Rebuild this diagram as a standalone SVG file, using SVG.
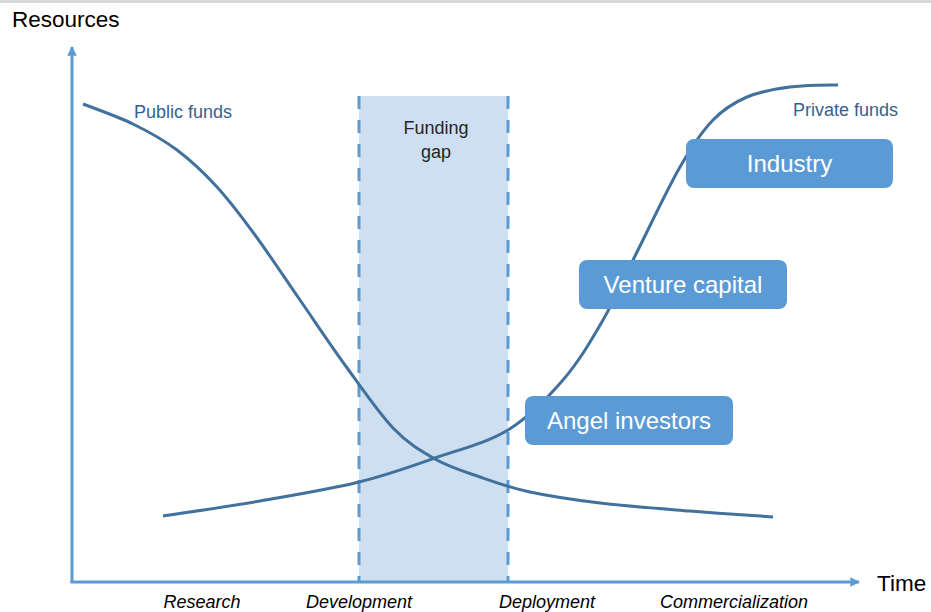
<svg xmlns="http://www.w3.org/2000/svg" width="931" height="612" viewBox="0 0 931 612">
  <style>
    .axis { stroke: #5b9bd5; stroke-width: 3; fill: none; }
    .gapline { stroke: #5b9bd5; stroke-width: 3; stroke-dasharray: 13 11; fill: none; }
    .curve { stroke: #41719c; stroke-width: 3; fill: none; stroke-linecap: butt; }
    .box { fill: #5b9bd5; }
    .boxtext { font-family: "Liberation Sans", Arial, sans-serif; font-size: 24px; fill: #ffffff; text-anchor: middle; }
    .axistitle { font-family: "Liberation Sans", Arial, sans-serif; font-size: 22.5px; fill: #000000; }
    .curvelabel { font-family: "Liberation Sans", Arial, sans-serif; font-size: 18px; fill: #35618f; }
    .stage { font-family: "Liberation Sans", Arial, sans-serif; font-size: 18px; font-style: italic; fill: #000000; text-anchor: middle; }
    .gaptext { font-family: "Liberation Sans", Arial, sans-serif; font-size: 18px; fill: #262626; text-anchor: middle; }
  </style>
  <defs>
    <marker id="arrow" viewBox="0 0 10 10" refX="9" refY="5" markerWidth="3.2" markerHeight="3.2" orient="auto">
      <path d="M0,0 L10,5 L0,10 z" fill="#5b9bd5"/>
    </marker>
  </defs>

  <rect x="0" y="0" width="931" height="612" fill="#ffffff"/>
  <rect x="0" y="0" width="931" height="3" fill="#d9d9d9"/>

  <!-- funding gap band -->
  <g id="funding-gap">
    <rect x="359" y="96" width="149" height="486" fill="#cddff0"/>
    <line class="gapline" x1="359" y1="96" x2="359" y2="582"/>
    <line class="gapline" x1="508" y1="96" x2="508" y2="582"/>
    <text class="gaptext" x="436" y="134">Funding</text>
    <text class="gaptext" x="436" y="158">gap</text>
  </g>

  <!-- axes -->
  <g id="axes">
    <line class="axis" x1="72" y1="583" x2="72" y2="47" marker-end="url(#arrow)"/>
    <line class="axis" x1="70.5" y1="582" x2="859" y2="582" marker-end="url(#arrow)"/>
    <text class="axistitle" x="12" y="27">Resources</text>
    <text class="axistitle" x="877" y="591">Time</text>
  </g>

  <!-- funding curves -->
  <g id="connectors">
    <path id="public-curve" class="curve" d="M83,104 C91.3,107.3 117.3,116.3 133,124 C148.7,131.7 163,139.5 177,150 C191,160.5 204,172.8 217,187 C230,201.2 241.2,216.2 255,235 C268.8,253.8 285,278.3 300,300 C315,321.7 329.5,343.7 345,365 C360.5,386.3 378,412.3 393,428 C408,443.7 420.5,450.8 435,459 C449.5,467.2 464.2,471.5 480,477 C495.8,482.5 510,487.7 530,492 C550,496.3 573.3,499.8 600,503 C626.7,506.2 661.2,508.7 690,511 C718.8,513.3 759.2,516 773,517"/>
    <path id="private-curve" class="curve" d="M163,516 C179.2,513.5 227.3,506.7 260,501 C292.7,495.3 329.8,489.2 359,482 C388.2,474.8 410.2,466.7 435,458 C459.8,449.3 486.7,443 508,430 C529.3,417 547.2,398.3 563,380 C578.8,361.7 590.5,341.7 603,320 C615.5,298.3 625.2,275.5 638,250 C650.8,224.5 667.5,188.7 680,167 C692.5,145.3 701.8,131.7 713,120 C724.2,108.3 734.2,102.5 747,97 C759.8,91.5 774.8,89 790,87 C805.2,85 830,84.7 838,85"/>
  </g>

  <g id="public-funds-label">
    <text class="curvelabel" x="134" y="118">Public funds</text>
  </g>
  <g id="private-funds-label">
    <text class="curvelabel" x="793" y="116">Private funds</text>
  </g>

  <g id="industry">
    <rect class="box" x="686" y="139" width="207" height="49" rx="8"/>
    <text class="boxtext" x="789.5" y="172">Industry</text>
  </g>
  <g id="venture-capital">
    <rect class="box" x="579" y="260" width="208" height="49" rx="8"/>
    <text class="boxtext" x="683" y="293">Venture capital</text>
  </g>
  <g id="angel-investors">
    <rect class="box" x="525" y="396" width="208" height="49" rx="8"/>
    <text class="boxtext" x="629" y="429">Angel investors</text>
  </g>

  <g id="stages">
    <text class="stage" x="202" y="608">Research</text>
    <text class="stage" x="359" y="608">Development</text>
    <text class="stage" x="547" y="608">Deployment</text>
    <text class="stage" x="734" y="608">Commercialization</text>
  </g>
</svg>
